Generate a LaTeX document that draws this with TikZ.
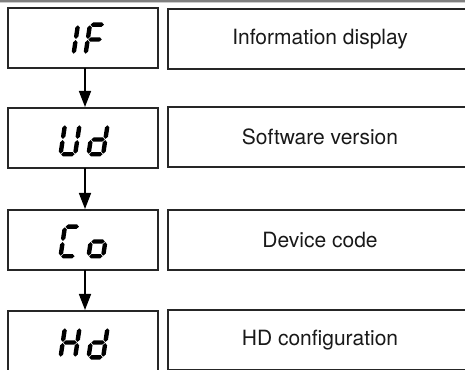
\documentclass[tikz,border=0pt]{standalone}
\usepackage{fontspec}
\newfontfamily\heros{TeX Gyre Heros}
\usetikzlibrary{arrows.meta}
\def\dW{19}
\def\dH{34}
\def\dT{4.4}
\def\dg{0.6}
\newcommand{\hseg}[1]{\fill ({\dT/2+\dg},{#1}) -- ({\dT+\dg},{#1+\dT/2}) -- ({\dW-\dT-\dg},{#1+\dT/2}) -- ({\dW-\dT/2-\dg},{#1}) -- ({\dW-\dT-\dg},{#1-\dT/2}) -- ({\dT+\dg},{#1-\dT/2}) -- cycle;}
\newcommand{\vseg}[3]{\fill ({#1},{#2+\dg}) -- ({#1+\dT/2},{#2+\dg+\dT/2}) -- ({#1+\dT/2},{#3-\dg-\dT/2}) -- ({#1},{#3-\dg}) -- ({#1-\dT/2},{#3-\dg-\dT/2}) -- ({#1-\dT/2},{#2+\dg+\dT/2}) -- cycle;}
\newcommand{\sgA}{\hseg{\dH-\dT/2}}
\newcommand{\sgG}{\hseg{\dH/2}}
\newcommand{\sgD}{\hseg{\dT/2}}
\newcommand{\sgE}{\vseg{\dT/2}{\dT/2}{\dH/2}}
\newcommand{\sgF}{\vseg{\dT/2}{\dH/2}{\dH-\dT/2}}
\newcommand{\sgB}{\vseg{\dW-\dT/2}{\dH/2}{\dH-\dT/2}}
\newcommand{\sgC}{\vseg{\dW-\dT/2}{\dT/2}{\dH/2}}
\newcommand{\lcddigit}[3]{\begin{scope}[shift={(#1,#2)}, xslant=0.15, fill=black]#3\end{scope}}
\begin{document}
\begin{tikzpicture}[x=1pt, y=1pt,
  lbox/.style={draw=black!85, line width=1.2pt, minimum width=150pt, minimum height=60pt, inner sep=0pt, outer sep=0pt},
  rbox/.style={draw=black!85, line width=1.2pt, minimum width=304pt, minimum height=60pt, inner sep=0pt, outer sep=0pt,
    text=black!90, font=\heros\fontsize{21}{24}\selectfont},
  arr/.style={draw=black, line width=1.6pt, -{Triangle[width=12pt,length=16pt]}, shorten >=1pt}]
\path[use as bounding box, clip] (0,0) rectangle (465,369);
\fill[white] (0,0) rectangle (465,369);
\fill[black!50] (0,366.5) rectangle (465,369);
\fill[black!20] (0,365.5) rectangle (465,366.5);

\node[lbox] (l1) at (83,331) {};
\node[lbox] (l2) at (83,231) {};
\node[lbox] (l3) at (83,129) {};
\node[lbox] (l4) at (83,28) {};

\node[rbox] (r1) at (320,330) {Information display};
\node[rbox] (r2) at (320,232) {Software version};
\node[rbox] (r3) at (320,129) {Device code};
\node[rbox] (r4) at (320,29) {HD configuration};

\draw[arr] ([xshift=2pt]l1.south) -- ([xshift=2pt]l2.north);
\draw[arr] ([xshift=2pt]l2.south) -- ([xshift=2pt]l3.north);
\draw[arr] ([xshift=2pt]l3.south) -- ([xshift=2pt]l4.north);

% IF
\lcddigit{71}{312.5}{\sgE\sgF}
\lcddigit{83}{312.5}{\sgA\sgE\sgF\sgG}
% Ud
\lcddigit{58}{212.5}{\sgB\sgC\sgD\sgE\sgF}
\lcddigit{86}{212.5}{\sgB\sgC\sgD\sgE\sgG}
% Co
\lcddigit{58}{110.5}{\sgA\sgD\sgE\sgF}
\lcddigit{86}{110.5}{\sgC\sgD\sgE\sgG}
% Hd
\lcddigit{58}{9.5}{\sgB\sgC\sgE\sgF\sgG}
\lcddigit{86}{9.5}{\sgB\sgC\sgD\sgE\sgG}
\end{tikzpicture}
\end{document}
